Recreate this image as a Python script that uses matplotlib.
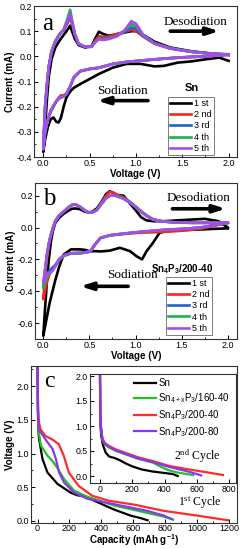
import matplotlib
matplotlib.use("Agg")
import matplotlib.pyplot as plt
from matplotlib.ticker import MultipleLocator

plt.rcParams['font.family'] = ['Liberation Sans', 'DejaVu Sans']
plt.rcParams['mathtext.default'] = 'regular'
plt.rcParams['axes.unicode_minus'] = False

# ---------------- data ----------------
cycle_labels = ["1 st", "2 nd", "3 rd", "4 th", "5 th"]
cycle_colors = ["#000000", "#ff2020", "#2060d0", "#20b050", "#a64df2"]

# Panel a (Sn)
a_v_cath = [2.0, 1.9, 1.75, 1.6, 1.45, 1.3, 1.2, 1.05, 0.9, 0.75, 0.6, 0.5, 0.4, 0.33, 0.29,
            0.25, 0.22, 0.19, 0.165, 0.14, 0.11, 0.08, 0.05, 0.02, 0.0]
a_i_cath_1 = [-0.018, -0.005, -0.012, -0.02, -0.025, -0.038, -0.04, -0.03, -0.03, -0.045, -0.07, -0.09,
              -0.11, -0.125, -0.14, -0.163, -0.2, -0.245, -0.263, -0.26, -0.243, -0.25, -0.28, -0.33, -0.38]
a_i_cath_2 = [0.006, 0.003, -0.001, -0.003, -0.006, -0.01, -0.013, -0.018, -0.023, -0.031, -0.046, -0.051,
              -0.06, -0.085, -0.12, -0.148, -0.155, -0.155, -0.165, -0.178, -0.2, -0.22, -0.255, -0.3, -0.36]
a_i_cath_3 = [0.007, 0.004, 0.0, -0.002, -0.005, -0.009, -0.012, -0.017, -0.022, -0.03, -0.045, -0.05,
              -0.058, -0.083, -0.12, -0.15, -0.16, -0.163, -0.17, -0.18, -0.198, -0.218, -0.25, -0.3, -0.37]
a_i_cath_4 = [0.007, 0.004, 0.0, -0.002, -0.005, -0.009, -0.012, -0.017, -0.022, -0.03, -0.045, -0.05,
              -0.058, -0.083, -0.12, -0.15, -0.16, -0.162, -0.17, -0.178, -0.196, -0.216, -0.25, -0.3, -0.36]
a_i_cath_5 = [0.008, 0.004, 0.0, -0.002, -0.005, -0.009, -0.012, -0.017, -0.022, -0.03, -0.045, -0.05,
              -0.058, -0.083, -0.12, -0.15, -0.16, -0.162, -0.17, -0.178, -0.195, -0.215, -0.25, -0.3, -0.37]

a_v_anod = [0.0, 0.02, 0.04, 0.06, 0.09, 0.13, 0.18, 0.22, 0.26, 0.29, 0.31, 0.34, 0.38, 0.45, 0.52,
            0.56, 0.6, 0.64, 0.7, 0.8, 0.88, 0.95, 1.0, 1.08, 1.2, 1.37, 1.6, 1.8, 2.0]
a_i_anod_1 = [-0.38, -0.28, -0.17, -0.08, -0.01, 0.035, 0.065, 0.085, 0.105, 0.122, 0.1, 0.07, 0.045, 0.035,
              0.04, 0.07, 0.098, 0.09, 0.082, 0.088, 0.095, 0.1, 0.1, 0.085, 0.058, 0.035, 0.02, 0.012, 0.005]
a_i_anod_2 = [-0.36, -0.2, -0.11, -0.04, 0.02, 0.06, 0.09, 0.105, 0.13, 0.155, 0.13, 0.085, 0.05, 0.038,
              0.04, 0.062, 0.08, 0.078, 0.078, 0.09, 0.098, 0.105, 0.1, 0.078, 0.05, 0.031, 0.018, 0.011, 0.007]
a_i_anod_3 = [-0.37, -0.2, -0.11, -0.04, 0.02, 0.06, 0.09, 0.105, 0.135, 0.165, 0.135, 0.088, 0.05, 0.038,
              0.038, 0.058, 0.072, 0.07, 0.072, 0.083, 0.098, 0.115, 0.11, 0.08, 0.051, 0.031, 0.018, 0.011, 0.007]
a_i_anod_4 = [-0.36, -0.2, -0.11, -0.04, 0.02, 0.06, 0.09, 0.105, 0.15, 0.185, 0.145, 0.09, 0.05, 0.038,
              0.038, 0.056, 0.07, 0.067, 0.07, 0.082, 0.103, 0.128, 0.12, 0.082, 0.052, 0.032, 0.018, 0.011, 0.008]
a_i_anod_5 = [-0.37, -0.2, -0.11, -0.04, 0.02, 0.06, 0.09, 0.105, 0.14, 0.17, 0.14, 0.09, 0.05, 0.038,
              0.038, 0.055, 0.068, 0.065, 0.068, 0.08, 0.105, 0.14, 0.13, 0.085, 0.052, 0.032, 0.018, 0.011, 0.008]

# Panel b (Sn4P3/200-40)
b_v_cath = [2.0, 1.85, 1.7, 1.5, 1.35, 1.26, 1.19, 1.12, 1.07, 1.01, 0.94, 0.83, 0.72, 0.62, 0.56,
            0.51, 0.45, 0.4, 0.3, 0.22, 0.17, 0.13, 0.1, 0.07, 0.04, 0.0]
b_i_cath_1 = [-0.005, -0.008, -0.012, -0.016, -0.02, -0.033, -0.095, -0.148, -0.2, -0.18, -0.148, -0.127,
              -0.145, -0.15, -0.148, -0.15, -0.14, -0.137, -0.137, -0.17, -0.25, -0.33, -0.4, -0.47, -0.56, -0.68]
b_i_cath_2 = [0.03, 0.01, -0.008, -0.02, -0.026, -0.028, -0.03, -0.031, -0.032, -0.034, -0.037, -0.043,
              -0.05, -0.066, -0.108, -0.15, -0.157, -0.16, -0.162, -0.175, -0.2, -0.235, -0.255, -0.29, -0.34, -0.45]
b_i_cath_3 = [0.03, 0.014, 0.0, -0.009, -0.013, -0.017, -0.021, -0.024, -0.026, -0.03, -0.034, -0.041,
              -0.049, -0.065, -0.107, -0.15, -0.157, -0.16, -0.162, -0.178, -0.205, -0.24, -0.25, -0.27, -0.29, -0.36]
b_i_cath_4 = [0.03, 0.014, 0.0, -0.009, -0.013, -0.017, -0.021, -0.024, -0.026, -0.03, -0.034, -0.041,
              -0.049, -0.065, -0.107, -0.152, -0.158, -0.162, -0.163, -0.178, -0.205, -0.245, -0.27, -0.29, -0.31, -0.38]
b_i_cath_5 = [0.03, 0.015, 0.0, -0.008, -0.012, -0.016, -0.02, -0.023, -0.025, -0.029, -0.033, -0.04,
              -0.048, -0.064, -0.106, -0.148, -0.155, -0.158, -0.16, -0.175, -0.2, -0.24, -0.27, -0.285, -0.29, -0.35]

b_v_anod = [0.0, 0.02, 0.04, 0.06, 0.08, 0.1, 0.13, 0.17, 0.22, 0.27, 0.31, 0.35, 0.4, 0.45, 0.49,
            0.53, 0.58, 0.63, 0.68, 0.72, 0.76, 0.8, 0.87, 0.94, 1.0, 1.06, 1.12, 1.19, 1.3, 1.45,
            1.6, 1.75, 1.9, 2.0]
b_i_anod_1 = [-0.68, -0.5, -0.33, -0.2, -0.1, -0.03, 0.03, 0.06, 0.087, 0.105, 0.118, 0.12, 0.115, 0.1,
              0.095, 0.1, 0.12, 0.16, 0.21, 0.228, 0.218, 0.205, 0.2, 0.15, 0.11, 0.065, 0.045, 0.04,
              0.04, 0.045, 0.05, 0.055, 0.04, 0.0]
b_i_anod_2 = [-0.45, -0.3, -0.19, -0.11, -0.055, -0.015, 0.04, 0.075, 0.1, 0.125, 0.142, 0.145, 0.13, 0.108,
              0.095, 0.095, 0.112, 0.155, 0.2, 0.225, 0.22, 0.205, 0.19, 0.16, 0.13, 0.098, 0.072, 0.05,
              0.038, 0.032, 0.03, 0.03, 0.03, 0.03]
b_i_anod_3 = [-0.36, -0.26, -0.17, -0.1, -0.05, -0.01, 0.04, 0.075, 0.1, 0.125, 0.142, 0.145, 0.13, 0.108,
              0.095, 0.095, 0.11, 0.148, 0.183, 0.2, 0.205, 0.198, 0.185, 0.16, 0.133, 0.103, 0.077, 0.052,
              0.038, 0.032, 0.03, 0.03, 0.03, 0.03]
b_i_anod_4 = [-0.38, -0.27, -0.17, -0.1, -0.05, -0.01, 0.04, 0.075, 0.1, 0.125, 0.142, 0.145, 0.13, 0.108,
              0.095, 0.095, 0.11, 0.148, 0.183, 0.2, 0.204, 0.197, 0.183, 0.158, 0.131, 0.101, 0.076, 0.051,
              0.038, 0.032, 0.03, 0.03, 0.03, 0.03]
b_i_anod_5 = [-0.35, -0.26, -0.17, -0.1, -0.05, -0.01, 0.04, 0.075, 0.1, 0.125, 0.142, 0.145, 0.13, 0.108,
              0.095, 0.095, 0.11, 0.15, 0.185, 0.2, 0.205, 0.196, 0.18, 0.155, 0.13, 0.1, 0.075, 0.05,
              0.038, 0.032, 0.03, 0.03, 0.03, 0.03]

# Panel c (discharge curves)
c_labels = ["Sn", "Sn$_{4+x}$P$_3$/160-40", "Sn$_4$P$_3$/200-40", "Sn$_4$P$_3$/200-80"]
c_colors = ["#000000", "#22c022", "#ff2a2a", "#8a35ee"]

c1_q_sn = [0, 2, 5, 10, 31, 62, 125, 208, 250, 292, 375, 479, 583, 650, 690]
c1_v_sn = [2.35, 1.7, 1.35, 1.21, 0.92, 0.72, 0.55, 0.42, 0.38, 0.37, 0.28, 0.17, 0.08, 0.04, 0.01]
c1_q_160 = [0, 2, 5, 21, 40, 62, 90, 115, 167, 229, 312, 479, 687, 800, 850]
c1_v_160 = [2.35, 1.7, 1.35, 1.12, 1.05, 0.97, 0.9, 0.82, 0.62, 0.45, 0.36, 0.23, 0.12, 0.06, 0.02]
c1_q_200_40 = [0, 2, 5, 10, 19, 50, 92, 133, 164, 196, 258, 342, 446, 612, 792, 1000, 1195]
c1_v_200_40 = [2.35, 1.9, 1.6, 1.45, 1.36, 1.26, 1.21, 1.14, 0.97, 0.72, 0.52, 0.375, 0.3, 0.24, 0.15, 0.08, 0.01]
c1_q_200_80 = [0, 1, 3, 8, 30, 62, 94, 115, 135, 167, 229, 312, 479, 687, 792, 840]
c1_v_200_80 = [2.35, 1.8, 1.5, 1.36, 1.28, 1.17, 1.07, 0.92, 0.72, 0.57, 0.42, 0.33, 0.25, 0.15, 0.08, 0.03]

c2_q_sn = [0, 1, 3, 8, 18, 35, 56, 90, 120, 160, 202, 260, 326, 400, 450, 482]
c2_v_sn = [2.0, 1.4, 1.0, 0.8, 0.62, 0.47, 0.39, 0.36, 0.32, 0.25, 0.19, 0.13, 0.09, 0.06, 0.04, 0.0]
c2_q_160 = [0, 2, 5, 15, 30, 56, 100, 160, 240, 326, 380, 420, 480, 534, 578]
c2_v_160 = [2.0, 1.3, 1.0, 0.72, 0.63, 0.57, 0.5, 0.43, 0.34, 0.27, 0.18, 0.12, 0.07, 0.04, 0.02]
c2_q_200_40 = [0, 2, 5, 15, 30, 56, 100, 160, 240, 326, 430, 534, 650, 762]
c2_v_200_40 = [2.0, 1.3, 1.0, 0.75, 0.66, 0.6, 0.53, 0.46, 0.37, 0.3, 0.2, 0.14, 0.08, 0.02]
c2_q_200_80 = [0, 2, 5, 15, 30, 56, 100, 160, 240, 326, 430, 534, 600, 627]
c2_v_200_80 = [2.0, 1.3, 1.0, 0.73, 0.64, 0.58, 0.51, 0.44, 0.35, 0.28, 0.18, 0.1, 0.04, 0.01]

# ---------------- figure ----------------
W, H = 241, 549
fig = plt.figure(figsize=(W / 100, H / 100), dpi=100)


def px_axes(l, r, t, b):
    return fig.add_axes([l / W, 1 - b / H, (r - l) / W, (b - t) / H])


TFS = 6.5
LFS = 7
SERIF = ['Liberation Serif', 'DejaVu Serif']


def style(ax, xmaj, xmin, ymaj, ymin, fs=TFS, xpad=1.5):
    ax.xaxis.set_major_locator(MultipleLocator(xmaj))
    ax.xaxis.set_minor_locator(MultipleLocator(xmin))
    ax.yaxis.set_major_locator(MultipleLocator(ymaj))
    ax.yaxis.set_minor_locator(MultipleLocator(ymin))
    ax.tick_params(which='both', direction='in', labelsize=fs, pad=1.5)
    ax.tick_params(axis='x', which='both', pad=xpad)
    ax.tick_params(which='major', length=3, width=0.7)
    ax.tick_params(which='minor', length=1.5, width=0.6)
    for s in ax.spines.values():
        s.set_linewidth(0.8)
        s.set_color('#333333')


def arrow(ax, x0, x1, y):
    ax.annotate('', xy=(x1, y), xytext=(x0, y),
                arrowprops=dict(arrowstyle='-|>,head_length=0.7,head_width=0.22',
                                lw=2.6, color='k', shrinkA=0, shrinkB=0))


def cv_panel(ax, v_c, cath, v_a, anod):
    for ic, (cc, aa) in enumerate(zip(cath, anod)):
        ax.plot(v_c + v_a, cc + aa, color=cycle_colors[ic], lw=1.9,
                label=cycle_labels[ic], solid_joinstyle='round')


def cv_legend(ax, x0, y0):
    lg = ax.legend(loc='lower left', bbox_to_anchor=(x0, y0), borderaxespad=0,
                   fontsize=6.5, handlelength=2.3, handletextpad=0.3, borderpad=0.25,
                   labelspacing=0.25, frameon=True, fancybox=False, edgecolor='#444444')
    lg.get_frame().set_linewidth(0.6)
    return lg


# Panel a
axa = px_axes(34, 237, 6, 157)
cv_panel(axa, a_v_cath, [a_i_cath_1, a_i_cath_2, a_i_cath_3, a_i_cath_4, a_i_cath_5],
         a_v_anod, [a_i_anod_1, a_i_anod_2, a_i_anod_3, a_i_anod_4, a_i_anod_5])
axa.set_xlim(-0.1, 2.09)
axa.set_ylim(-0.4, 0.2)
style(axa, 0.5, 0.25, 0.1, 0.05)
axa.set_yticks([-0.4, -0.3, -0.2, -0.1, 0.0, 0.1, 0.2])
axa.set_yticklabels(['-0.4', '-0.3', '-0.2', '-0.1', '0.0', '0.1', '0.2'])
axa.set_xlabel('Voltage (V)', fontsize=LFS, fontweight='bold', labelpad=1)
axa.set_ylabel('Current (mA)', fontsize=LFS, fontweight='bold', labelpad=1)
axa.text(0.04, 0.88, 'a', transform=axa.transAxes, fontsize=18, family=SERIF, va='center')
axa.text(1.3, 0.135, 'Desodiation', fontsize=9.5, family=SERIF, va='center')
arrow(axa, 1.37, 1.9, 0.1)
axa.text(0.855, -0.136, 'Sodiation', fontsize=9.5, family=SERIF, va='center', ha='center')
arrow(axa, 1.13, 0.58, -0.176)
cv_legend(axa, (168 - 34) / 203, 0.012)
axa.text(1.6, -0.126, 'Sn', fontsize=8, fontweight='bold', ha='center', va='center')

# Panel b
axb = px_axes(35, 237, 183, 339)
cv_panel(axb, b_v_cath, [b_i_cath_1, b_i_cath_2, b_i_cath_3, b_i_cath_4, b_i_cath_5],
         b_v_anod, [b_i_anod_1, b_i_anod_2, b_i_anod_3, b_i_anod_4, b_i_anod_5])
axb.set_xlim(-0.09, 2.1)
axb.set_ylim(-0.7, 0.28)
style(axb, 0.5, 0.25, 0.2, 0.1)
axb.set_yticks([-0.6, -0.4, -0.2, 0.0, 0.2])
axb.set_yticklabels(['-0.6', '-0.4', '-0.2', '0.0', '0.2'])
axb.set_xlabel('Voltage (V)', fontsize=LFS, fontweight='bold', labelpad=1)
axb.set_ylabel('Current (mA)', fontsize=LFS, fontweight='bold', labelpad=1)
axb.text(0.04, 0.9, 'b', transform=axb.transAxes, fontsize=18, family=SERIF, va='center')
axb.text(1.34, 0.188, 'Desodiation', fontsize=9.5, family=SERIF, va='center')
arrow(axb, 1.4, 1.98, 0.118)
axb.text(0.97, -0.3, 'Sodiation', fontsize=9.5, family=SERIF, va='center', ha='center')
arrow(axb, 0.92, 0.4, -0.369)
cv_legend(axb, (166 - 35) / 202, 0.025)
axb.text(1.5, -0.26, 'Sn$_4$P$_3$/200-40', fontsize=7, fontweight='bold', ha='center', va='center')

# Panel c
axc = px_axes(31, 237, 366, 523)
c1_series = [(c1_q_sn, c1_v_sn), (c1_q_160, c1_v_160), (c1_q_200_40, c1_v_200_40), (c1_q_200_80, c1_v_200_80)]
for (q, v), col in zip(c1_series, c_colors):
    axc.plot(q, v, color=col, lw=1.6)
axc.set_xlim(-41, 1250)
axc.set_ylim(-0.03, 2.3)
style(axc, 200, 100, 0.5, 0.25, xpad=1)
axc.set_yticks([0.0, 0.5, 1.0, 1.5, 2.0])
axc.set_xlabel('Capacity (mAh g$^{-1}$)', fontsize=LFS, fontweight='bold', labelpad=-0.5)
axc.set_ylabel('Voltage (V)', fontsize=LFS, fontweight='bold', labelpad=1)
axc.text(0.065, 0.9, 'c', transform=axc.transAxes, fontsize=17, family=SERIF, va='center')
axc.text(880, 0.28, '1$^{st}$ Cycle', fontsize=8.5, family=SERIF, va='center')

axi = px_axes(90, 236, 374, 483)
c2_series = [(c2_q_sn, c2_v_sn), (c2_q_160, c2_v_160), (c2_q_200_40, c2_v_200_40), (c2_q_200_80, c2_v_200_80)]
for i, (q, v) in enumerate(c2_series):
    axi.plot(q, v, color=c_colors[i], lw=1.6, label=c_labels[i])
axi.set_xlim(-62, 843)
axi.set_ylim(-0.14, 2.04)
style(axi, 200, 100, 0.5, 0.25, fs=6.3)
axi.set_yticks([0.0, 0.5, 1.0, 1.5, 2.0])
axi.text(460, 0.4, '2$^{nd}$ Cycle', fontsize=8.5, family=SERIF, va='center')
axi.legend(loc='upper left', bbox_to_anchor=(0.3, 0.96), borderaxespad=0, frameon=False,
           fontsize=7, handlelength=2.3, handletextpad=0.2, borderpad=0, labelspacing=0.3)

fig.savefig('out.png', dpi=100)
